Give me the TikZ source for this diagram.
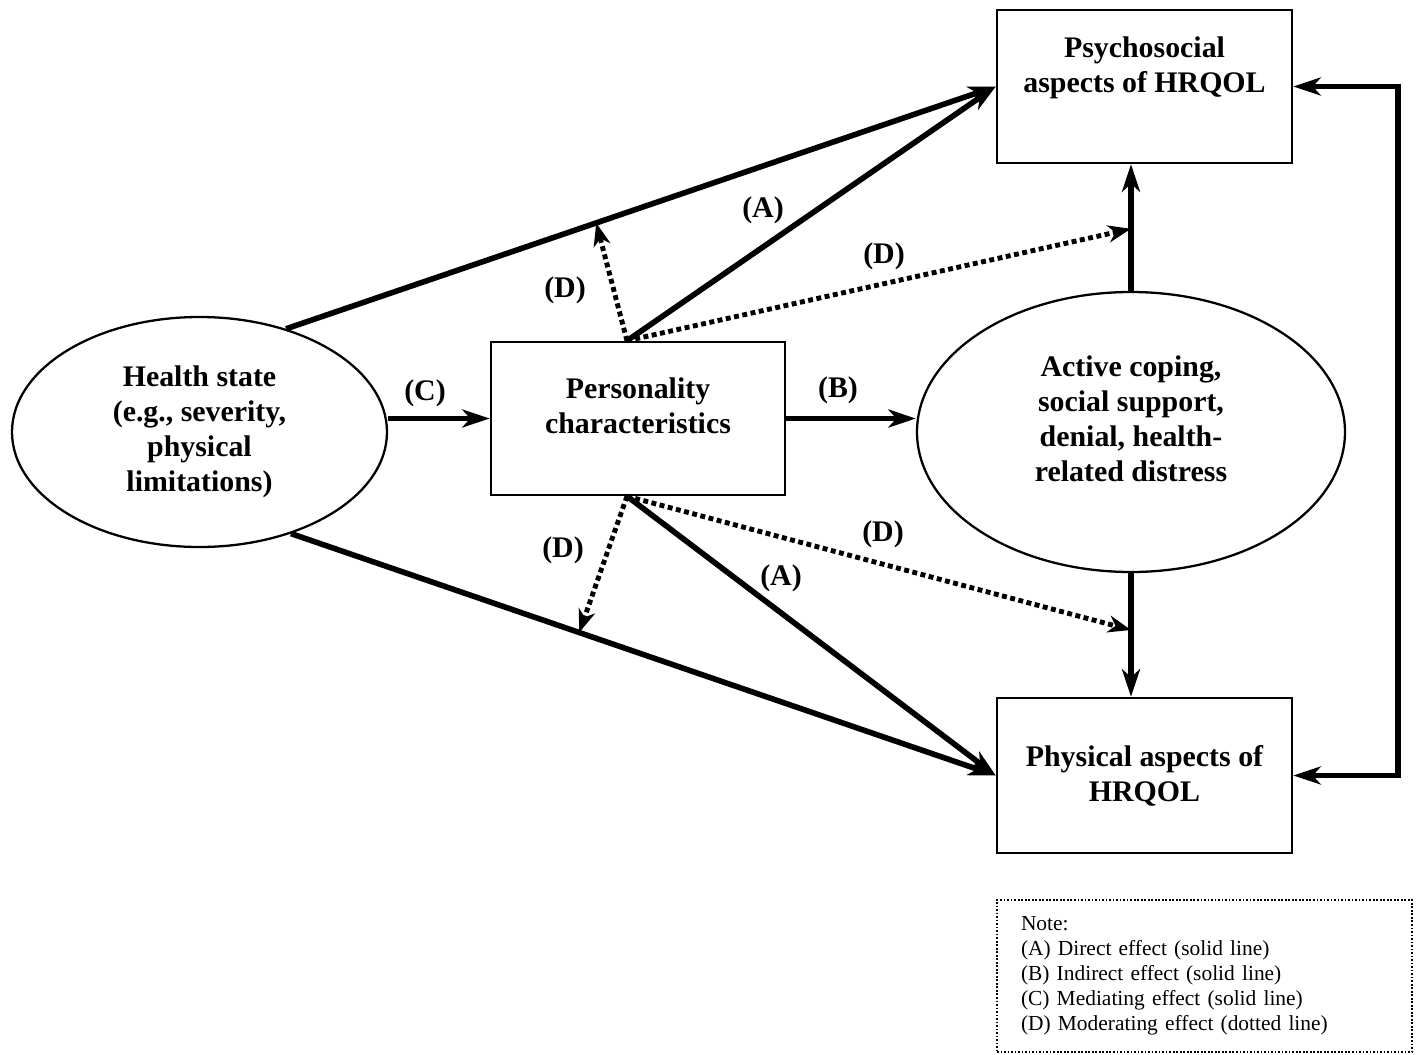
\documentclass[tikz,border=0pt]{standalone}
\usepackage{fontspec}
\setmainfont{Liberation Serif}
\usepackage{tikz}
\usetikzlibrary{shapes.geometric, arrows.meta, positioning, calc}

\begin{document}
\begin{tikzpicture}[
			block/.style={
				rectangle,
				draw,
				minimum width=5.9cm,
				minimum height=3.06cm,
				inner sep=0pt,
				line width=1.4pt
			},
			oval/.style={
				ellipse,
				draw,
				inner sep=0pt,
				line width=1.3pt
			},
			txt/.style={
				font=\fontsize{17}{20}\selectfont\bfseries,
				align=center
			},
			tag/.style={
				font=\fontsize{17}{20}\selectfont\bfseries
			},
			arrow/.style={
				-{Stealth[length=5.5mm, width=3.6mm, inset=1.6mm]},
				line width=3.2pt
			},
			dblarrow/.style={
				{Stealth[length=5.5mm, width=3.6mm, inset=1.6mm]}-{Stealth[length=5.5mm, width=3.6mm, inset=1.6mm]},
				line width=3.2pt
			},
			dotarrow/.style={
				-{Stealth[length=4.6mm, width=3.4mm, inset=1.4mm]},
				line width=2.8pt,
				dash pattern=on 2.8pt off 2pt
			},
			notebox/.style={
				rectangle,
				draw,
				densely dotted,
				line width=1pt,
				text width=7.34cm,
				inner xsep=0.48cm,
				minimum height=3.04cm,
				align=left,
				font=\fontsize{12.2}{14.2}\selectfont
			}
			]
			
			\useasboundingbox (0,0) rectangle (28.34,-21.1);
			
			% Health state (left)
			\node[oval, txt, minimum width=7.5cm, minimum height=4.6cm] (health) at (3.99,-8.64) {Health state\\(e.g., severity,\\physical\\limitations)};
			
			% Personality (middle)
			\node[block, minimum width=5.88cm] (person) at (12.76,-8.37) {};
			\node[txt] (person_txt) at ([yshift=0.26cm]person.center) {Personality\\characteristics};
			
			% Coping (right)
			\node[oval, minimum width=8.56cm, minimum height=5.6cm] (coping) at (22.62,-8.64) {};
			\node[txt] (coping_txt) at ([yshift=0.26cm]coping.center) {Active coping,\\social support,\\denial, health-\\related distress};
			
			% HRQOL boxes
			\node[block] (psych) at (22.89,-1.73) {};
			\node[txt] (psych_txt) at ([yshift=0.38cm]psych.center) {Psychosocial\\aspects of HRQOL};
			\node[block, txt, minimum height=3.1cm] (phys) at (22.89,-15.51) {Physical aspects of\\HRQOL};
			
			% Note
			\node[notebox] (note) at (24.09,-19.52) {Note:\\(A) Direct effect (solid line)\\(B) Indirect effect (solid line)\\(C) Mediating effect (solid line)\\(D) Moderating effect (dotted line)};
			
			% Split points on the personality box
			\coordinate (ptop) at ([xshift=-0.22cm]person.north);
			\coordinate (pbot) at ([xshift=-0.22cm]person.south);
			
			% Solid paths
			\draw[arrow] (health.50) -- (psych.west);
			\draw[arrow] (health.-48) -- (phys.west);
			\draw[arrow] (ptop) -- (psych.west);
			\draw[arrow] (pbot) -- (phys.west);
			\draw[arrow] (health.east |- person.west) -- (person.west);
			\draw[arrow] (person.east) -- (person.east -| coping.west);
			\draw[arrow] (coping.north) -- (coping.north |- psych.south);
			\draw[arrow] (coping.south) -- (coping.south |- phys.north);
			\draw[dblarrow] (psych.east) -- ++(2.1,0) |- (phys.east);
			
			% Hit points of the moderating paths
			\coordinate (hitUL) at ($(health.50)!0.437!(psych.west)$);
			\coordinate (hitUR) at ($(coping.north)!0.49!(coping.north |- psych.south)$);
			\coordinate (hitLL) at ($(health.-48)!0.409!(phys.west)$);
			\coordinate (hitLR) at ($(coping.south)!0.46!(coping.south |- phys.north)$);
			
			% Dotted paths
			\draw[dotarrow] (ptop) -- (hitUL);
			\draw[dotarrow] (ptop) -- (hitUR);
			\draw[dotarrow] (pbot) -- (hitLL);
			\draw[dotarrow] (pbot) -- (hitLR);
			
			% Path tags
			\node[tag] (tagA1) at (15.26,-4.2) {(A)};
			\node[tag] (tagA2) at (15.62,-11.56) {(A)};
			\node[tag] (tagB) at (16.76,-7.8) {(B)};
			\node[tag] (tagC) at (8.5,-7.86) {(C)};
			\node[tag] (tagD1) at (11.3,-5.8) {(D)};
			\node[tag] (tagD2) at (17.68,-5.12) {(D)};
			\node[tag] (tagD3) at (11.26,-11.0) {(D)};
			\node[tag] (tagD4) at (17.66,-10.68) {(D)};
			
		\end{tikzpicture}
\end{document}
